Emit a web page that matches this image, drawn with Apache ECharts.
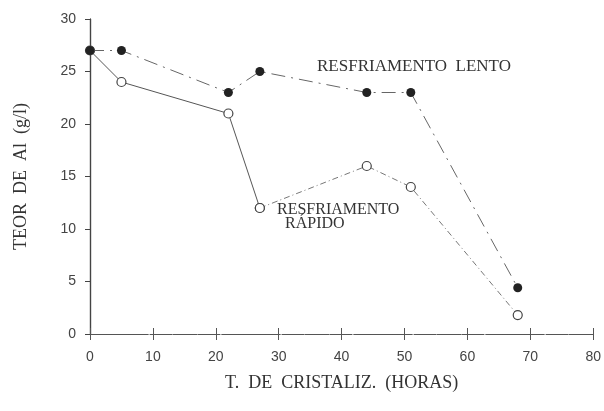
<!DOCTYPE html>
<html>
<head>
<meta charset="utf-8">
<script src="https://cdn.jsdelivr.net/npm/echarts@6/dist/echarts.min.js"></script>
<style>
  html, body { margin: 0; padding: 0; background: #fff; }
  #chart { width: 604px; height: 411px; }
</style>
</head>
<body>
<div id="chart"></div>
<script>
// data
const horas = [0, 5, 22, 27, 44, 51, 68];
const lento = [27, 27, 23, 25, 23, 23, 4.4];
const rapido = [27, 24, 21, 12, 16, 14, 1.8];

const ink = "#333";
const tickFont = {color: "#444", fontSize: 14, fontFamily: "Liberation Sans"};

const pairs = (ys) => horas.map((x, i) => [x, ys[i]]);
const rapidoPts = pairs(rapido);
const openDot = {color: "#fff", borderColor: "#444", borderWidth: 1.2};

const chart = echarts.init(document.getElementById("chart"));

const option = {
  animation: false,
  grid: {left: 90, right: 10, top: 19, bottom: 77},
  xAxis: [
    {
      type: "value", min: 0, max: 80, interval: 10, position: "bottom",
      name: "T.  DE  CRISTALIZ.  (HORAS)", nameLocation: "middle", nameGap: 40,
      nameTextStyle: {color: ink, fontSize: 18, fontFamily: "Liberation Serif"},
      axisLine: {lineStyle: {color: "#555", width: 1, type: [10, 2]}},
      axisTick: {inside: true, length: 6, lineStyle: {color: "#555"}},
      axisLabel: Object.assign({margin: 16}, tickFont),
      splitLine: {show: false},
    },
    {
      type: "value", min: 0, max: 80, interval: 10, position: "top",
      axisLine: {show: true, lineStyle: {color: "#555", width: 1, type: [14, 3, 2, 3]}},
      axisTick: {inside: true, length: 6, lineStyle: {color: "#555"}},
      axisLabel: {show: false},
      splitLine: {show: false},
    },
  ],
  yAxis: [
    {
      type: "value", min: 0, max: 30, interval: 5, position: "left",
      name: "TEOR  DE  Al  (g/l)", nameLocation: "middle", nameGap: 60,
      nameTextStyle: {color: ink, fontSize: 18, fontFamily: "Liberation Serif"},
      axisLine: {show: true, lineStyle: {color: "#333", width: 1.2}},
      axisTick: {show: true, inside: false, length: 5, lineStyle: {color: "#444"}},
      axisLabel: Object.assign({margin: 14}, tickFont),
      splitLine: {show: false},
    },
    {
      type: "value", min: 0, max: 30, interval: 5, position: "right",
      axisLine: {show: true, lineStyle: {color: "#444", width: 1.2}},
      axisTick: {show: true, inside: true, length: 5, lineStyle: {color: "#444"}},
      axisLabel: {show: false},
      splitLine: {show: false},
    },
  ],
  series: [
    {
      name: "RESFRIAMENTO RÁPIDO",
      type: "line",
      data: rapidoPts.slice(0, 4),
      clip: false,
      symbol: "circle",
      symbolSize: 9,
      itemStyle: openDot,
      lineStyle: {color: "#555", width: 1},
      z: 3,
    },
    {
      name: "RESFRIAMENTO RÁPIDO (cont.)",
      type: "line",
      data: rapidoPts.slice(3),
      clip: false,
      symbol: "circle",
      symbolSize: 9,
      itemStyle: openDot,
      lineStyle: {color: "#777", width: 1, type: [6, 3, 1, 3]},
      z: 3,
    },
    {
      name: "RESFRIAMENTO LENTO",
      type: "line",
      data: pairs(lento),
      clip: false,
      symbol: "circle",
      symbolSize: 9,
      itemStyle: {color: "#222"},
      lineStyle: {color: "#666", width: 1, type: [14, 6, 2, 6]},
      z: 4,
    },
  ],
  graphic: [
    {
      type: "text", left: 317, top: 58,
      style: {text: "RESFRIAMENTO  LENTO", fill: ink, font: "17px Liberation Serif"},
    },
    {
      type: "text", left: 277, top: 202,
      style: {text: "RESFRIAMENTO", fill: ink, font: "16px Liberation Serif"},
    },
    {
      type: "text", left: 285, top: 216,
      style: {text: "RÁPIDO", fill: ink, font: "16px Liberation Serif"},
    },
  ],
};

chart.setOption(option);
</script>
</body>
</html>
